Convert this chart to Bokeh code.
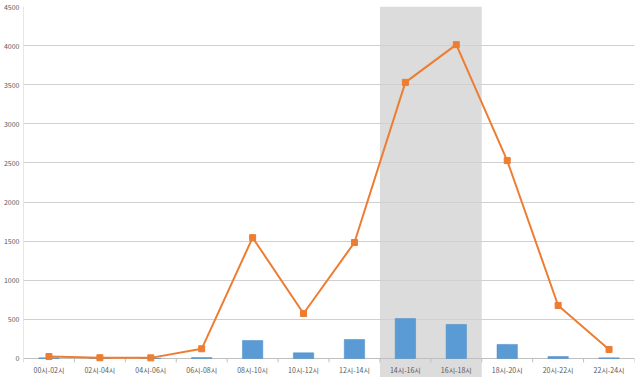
from bokeh.plotting import figure
from bokeh.models import Range1d, FixedTicker, BoxAnnotation, ColumnDataSource
from bokeh.core.properties import value
from bokeh.embed import file_html
from bokeh.resources import INLINE

categories = ["00시-02시", "02시-04시", "04시-06시", "06시-08시", "08시-10시", "10시-12시",
              "12시-14시", "14시-16시", "16시-18시", "18시-20시", "20시-22시", "22시-24시"]
bar_values = [8, 2, 2, 12, 230, 73, 243, 511, 435, 180, 25, 8]
line_values = [25, 10, 8, 124, 1545, 575, 1483, 3530, 4012, 2530, 678, 115]
y_ticks = [0, 500, 1000, 1500, 2000, 2500, 3000, 3500, 4000, 4500]
highlight = ["14시-16시", "16시-18시"]

FONT = "Noto Sans CJK KR"
n = len(categories)
xs = [i + 0.5 for i in range(n)]

p = figure(width=639, height=377, x_range=Range1d(0, n), y_range=Range1d(-243, 4500),
           output_backend="svg", toolbar_location=None,
           min_border_left=22, min_border_right=5, min_border_top=6, min_border_bottom=0)
p.outline_line_color = None
p.background_fill_color = "white"
p.xaxis.visible = False
p.xgrid.visible = False

p.ygrid.ticker = FixedTicker(ticks=y_ticks[1:])
p.ygrid.grid_line_color = "#D0D0D0"
p.ygrid.grid_line_width = 1

p.yaxis.ticker = FixedTicker(ticks=y_ticks)
p.yaxis.axis_line_color = None
p.yaxis.major_tick_line_color = None
p.yaxis.minor_tick_line_color = None
p.yaxis.major_tick_out = 0
p.yaxis.minor_tick_out = 0
p.yaxis.axis_label_standoff = 0
p.yaxis.major_label_standoff = 4
p.yaxis.major_label_text_font = FONT
p.yaxis.major_label_text_font_size = "7px"
p.yaxis.major_label_text_color = "#595959"

# highlighted period
i0 = categories.index(highlight[0])
i1 = categories.index(highlight[-1]) + 1
p.add_layout(BoxAnnotation(left=i0, right=i1, fill_color="#DCDCDC", fill_alpha=1,
                           line_color=None, level="image"))

# axis lines
p.segment(x0=[0], y0=[0], x1=[0], y1=[y_ticks[-1]], line_color="#D0D0D0", line_width=1)
p.segment(x0=[0], y0=[0], x1=[n], y1=[0], line_color="#BFBFBF", line_width=1)
p.segment(x0=list(range(n + 1)), y0=[0] * (n + 1), x1=list(range(n + 1)), y1=[-50] * (n + 1),
          line_color="#BFBFBF", line_width=1)

src = ColumnDataSource(dict(x=xs, cat=categories, bar=bar_values, line=line_values,
                            ly=[-153] * n))
p.vbar(x="x", top="bar", width=0.4, bottom=0, source=src, fill_color="#5B9BD5",
       line_color="#4A8AC4", line_width=0.5)
p.line(x="x", y="line", source=src, line_color="#ED7D31", line_width=2)
p.scatter(x="x", y="line", source=src, marker="square", size=6,
          fill_color="#ED7D31", line_color="#ED7D31")

p.text(x="x", y="ly", text="cat", source=src, text_font=value(FONT),
       text_font_size="7px", text_color="#595959", text_align="center",
       text_baseline="middle")

open("out.html", "w").write(file_html(p, INLINE))
